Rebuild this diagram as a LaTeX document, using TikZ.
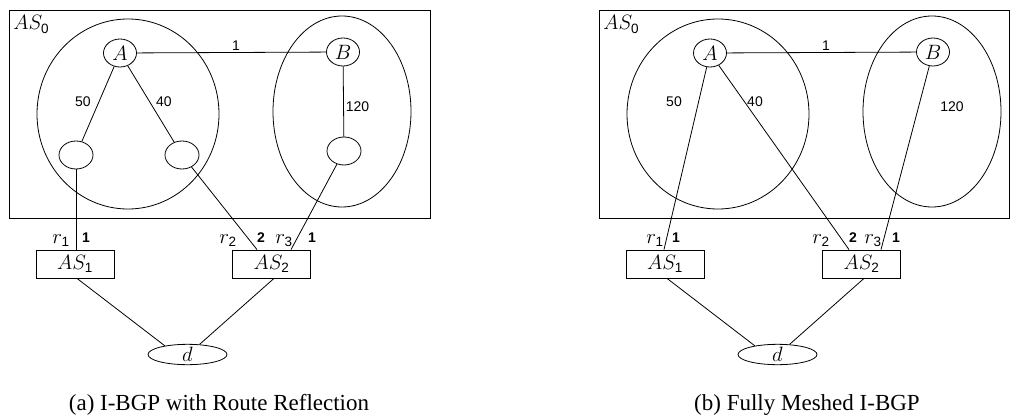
\documentclass[tikz,border=0pt]{standalone}
\usepackage{fontspec}
\usetikzlibrary{shapes.geometric,calc}
\newfontfamily\lblfont{Liberation Sans}
\newfontfamily\capfont{Liberation Serif}
\newcommand\sfsub[1]{\hbox{\lblfont\fontsize{13.5}{13.5}\selectfont #1}}
\begin{document}
\begin{tikzpicture}[x=1pt,y=-1pt,line width=0.8pt,
  region/.style={draw,ellipse,inner sep=0pt},
  router/.style={draw,ellipse,inner sep=0pt,minimum width=33pt,minimum height=28pt,font=\fontsize{19.5}{19.5}\selectfont},
  asbox/.style={draw,rectangle,inner sep=0pt,minimum width=78pt,minimum height=28pt,font=\fontsize{19.5}{19.5}\selectfont},
  dest/.style={draw,ellipse,inner sep=0pt,minimum width=79pt,minimum height=20pt,font=\fontsize{19.5}{19.5}\selectfont},
  asframe/.style={draw,rectangle,inner sep=0pt},
  wt/.style={font=\lblfont\fontsize{14}{14}\selectfont,inner sep=0pt},
  bwt/.style={font=\lblfont\bfseries\fontsize{14}{14}\selectfont,inner sep=0pt,anchor=base},
  mlbl/.style={font=\fontsize{19.5}{19.5}\selectfont,inner sep=0pt,anchor=base},
  figcaption/.style={font=\capfont\fontsize{23}{23}\selectfont,inner sep=0pt,anchor=base}]
\useasboundingbox (0,0) rectangle (1010,415);

% ---------- panel (a) ----------
\node[asframe,minimum width=421pt,minimum height=208pt] (as0a) at (219.5,114) {};
\node[mlbl,anchor=base west] (as0la) at (13,30) {$AS_{\sfsub{0}}$};
\node[region,minimum width=182pt,minimum height=190pt] (caa) at (128,114) {};
\node[region,minimum width=138pt,minimum height=191pt] (cba) at (342,111.5) {};
\node[router] (Aa) at (120,53) {$A$};
\node[router] (Ba) at (343,52) {$B$};
\node[router,minimum width=34pt] (s1a) at (76,155) {};
\node[router,minimum width=34pt] (s2a) at (182,155) {};
\node[router,minimum width=34pt] (s3a) at (344,151) {};
\node[asbox] (AS1a) at (75,264) {$AS_{\sfsub{1}}$};
\node[asbox] (AS2a) at (271.5,264) {$AS_{\sfsub{2}}$};
\node[dest] (da) at (187.5,354.5) {$d$};
\coordinate (p1a) at ($(AS1a.north)+(1,0)$);
\coordinate (p2a) at ($(AS2a.north)+(-14.5,0)$);
\coordinate (p3a) at ($(AS2a.north)+(19.5,0)$);
\draw (Aa) -- (Ba);
\draw (Aa) -- (s1a);
\draw (Aa) -- (s2a);
\draw (Ba) -- (s3a);
\draw (s1a) -- (p1a);
\draw (s2a) -- (p2a);
\draw (s3a) -- (p3a);
\draw ($(AS1a.south)+(2,0)$) -- (da.159);
\draw ($(AS2a.south)+(2.5,0)$) -- (da.40);
\node[wt] (w1a) at (236,46) {1};
\node[wt] (w50a) at (83,101.5) {50};
\node[wt] (w40a) at (164,102) {40};
\node[wt] (w120a) at (357.5,106.5) {120};
\node[mlbl] (r1a) at (61,243) {$r_{\sfsub{1}}$};
\node[bwt] (b1a) at (86,242) {1};
\node[mlbl] (r2a) at (228,243) {$r_{\sfsub{2}}$};
\node[bwt] (b2a) at (261,242) {2};
\node[mlbl] (r3a) at (284,243) {$r_{\sfsub{3}}$};
\node[bwt] (b3a) at (312,242) {1};
\node[figcaption] (capa) at (219,410) {(a) I-BGP with Route Reflection};

% ---------- panel (b) ----------
\node[asframe,minimum width=410pt,minimum height=208pt] (as0b) at (804,114) {};
\node[mlbl,anchor=base west] (as0lb) at (603,30) {$AS_{\sfsub{0}}$};
\node[region,minimum width=182pt,minimum height=190pt] (cab) at (718,114) {};
\node[region,minimum width=138pt,minimum height=191pt] (cbb) at (932,111.5) {};
\node[router] (Ab) at (710,53) {$A$};
\node[router] (Bb) at (933,52) {$B$};
\node[asbox] (AS1b) at (665,264) {$AS_{\sfsub{1}}$};
\node[asbox] (AS2b) at (861.5,264) {$AS_{\sfsub{2}}$};
\node[dest] (db) at (777.5,354.5) {$d$};
\coordinate (q1b) at ($(AS1b.north)+(-1,0)$);
\coordinate (q2b) at ($(AS2b.north)+(-12.5,0)$);
\coordinate (q3b) at ($(AS2b.north)+(19.5,0)$);
\draw (Ab) -- (Bb);
\draw (Ab) -- (q1b);
\draw (Ab) -- (q2b);
\draw (Bb) -- (q3b);
\draw ($(AS1b.south)+(2,0)$) -- (db.159);
\draw ($(AS2b.south)+(2.5,0)$) -- (db.40);
\node[wt] (w1b) at (826,46) {1};
\node[wt] (w50b) at (674,101.5) {50};
\node[wt] (w40b) at (755,102) {40};
\node[wt] (w120b) at (952,106.5) {120};
\node[mlbl] (r1b) at (655,243) {$r_{\sfsub{1}}$};
\node[bwt] (b1b) at (676,242) {1};
\node[mlbl] (r2b) at (821,243) {$r_{\sfsub{2}}$};
\node[bwt] (b2b) at (853,242) {2};
\node[mlbl] (r3b) at (873,243) {$r_{\sfsub{3}}$};
\node[bwt] (b3b) at (896,242) {1};
\node[figcaption] (capb) at (807,410) {(b) Fully Meshed I-BGP};
\end{tikzpicture}
\end{document}
